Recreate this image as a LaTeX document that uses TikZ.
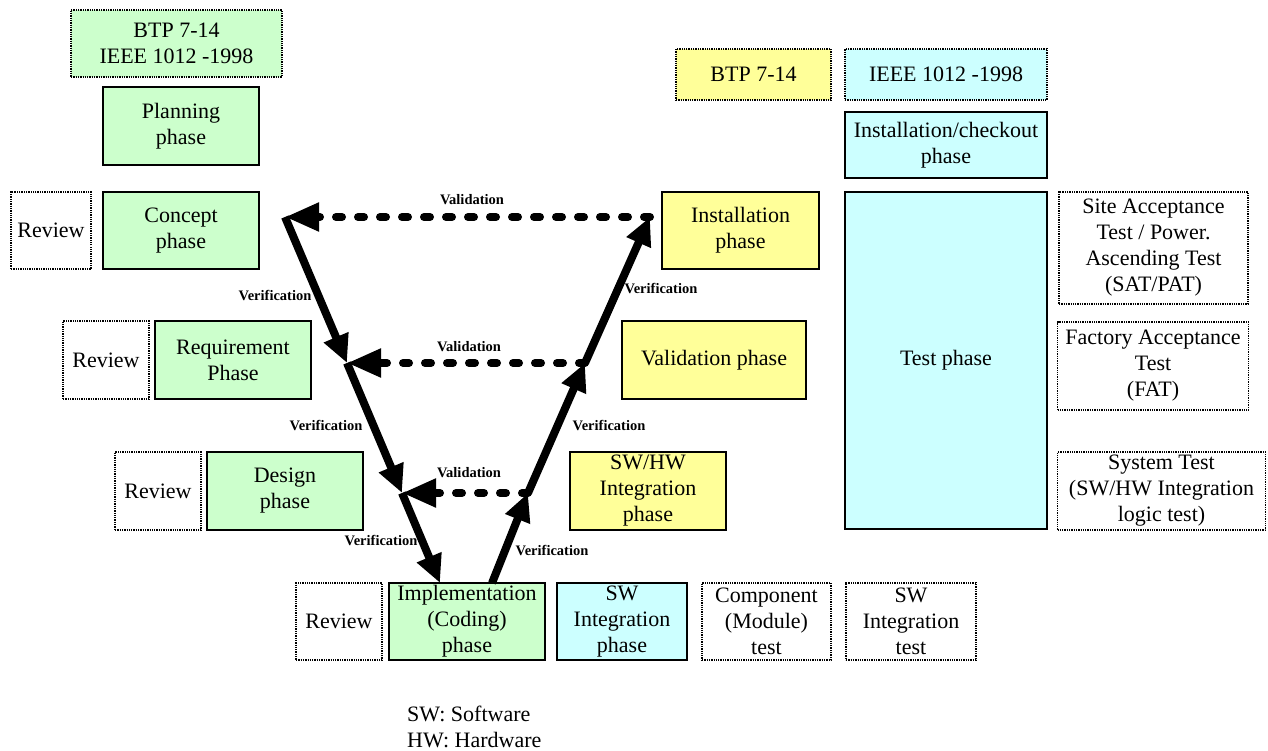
\documentclass[tikz,border=0pt]{standalone}
\usepackage{fontspec}
\setmainfont{Liberation Serif}
\usetikzlibrary{arrows.meta}
\definecolor{phgreen}{HTML}{CCFFCC}
\definecolor{phyellow}{HTML}{FFFF99}
\definecolor{phcyan}{HTML}{CCFFFF}
\tikzset{dims/.style 2 args={minimum width=#1pt, minimum height=#2pt},
  box/.style={align=center, inner sep=0pt, font=\fontsize{22}{26}\selectfont},
  phase/.style={box, draw=black, line width=2.2pt},
  gphase/.style={phase, fill=phgreen}, yphase/.style={phase, fill=phyellow}, cphase/.style={phase, fill=phcyan},
  note/.style={box, draw=black, densely dotted, line width=1.3pt},
  verif/.style={line width=8pt, -{Triangle[length=28pt, width=25pt]}},
  valid/.style={line width=8pt, line cap=round, dash pattern=on 6pt off 16pt, -{Triangle[length=34pt, width=27pt]}},
  lbl/.style={font=\fontsize{14.5}{16}\selectfont\bfseries, inner sep=0pt}}

\begin{document}
\begin{tikzpicture}[x=1pt, y=-1pt]
\useasboundingbox (0,0) rectangle (1268,751);
 \node[note, fill=phgreen, dims={211}{67}] (stdL) at (176.5,43.5) {BTP 7-14\\IEEE 1012 -1998};
 \node[note, fill=phyellow, dims={155}{51}] (stdbtp) at (753.5,74.5) {BTP 7-14};
 \node[note, fill=phcyan, dims={202}{51}] (stdieee) at (946,74.5) {IEEE 1012 -1998};
 \node[gphase, dims={156}{78}] (planning) at (181,126) {Planning\\phase};
 \node[gphase, dims={156}{77}] (concept) at (181,230.5) {Concept\\phase};
 \node[gphase, dims={156}{78}] (require) at (233,360) {Requirement\\Phase};
 \node[gphase, dims={156}{78}] (design) at (285,491) {Design\\phase};
 \node[gphase, dims={156}{77}] (impl) at (467,621.5) {Implementation\\(Coding)\\phase};
 \node[note, dims={80}{77}] (rev1) at (51,230.5) {Review};
 \node[note, dims={86}{78}] (rev2) at (106,360) {Review};
 \node[note, dims={86}{78}] (rev3) at (158,491) {Review};
 \node[note, dims={86}{77}] (rev4) at (339,621.5) {Review};
 \node[cphase, dims={130}{77}] (swint) at (622,621.5) {SW\\Integration\\phase};
 \node[note, dims={129}{77}] (comptest) at (766.5,621.5) {Component\\(Module)\\test};
 \node[note, dims={130}{77}] (swtest) at (911,621.5) {SW\\Integration\\test};
 \node[yphase, dims={156}{78}] (swhw) at (648,491) {SW/HW\\Integration\\phase};
 \node[yphase, dims={184}{78}] (validph) at (714,360) {Validation phase};
 \node[yphase, dims={157}{77}] (install) at (740.5,230.5) {Installation\\phase};
 \node[cphase, dims={202}{66}] (checkout) at (946,145) {Installation/checkout\\phase};
 \node[cphase, dims={202}{337}] (testph) at (946,360.5) {Test phase};
 \node[note, dims={189}{112}] (sat) at (1153.5,248) {Site Acceptance\\Test / Power.\\Ascending Test\\(SAT/PAT)};
 \node[note, dims={191}{88}] (fat) at (1153,366) {Factory Acceptance\\Test\\(FAT)};
 \node[note, dims={208}{78}] (systest) at (1161.5,491) {System Test\\(SW/HW Integration\\logic test)};
 \node[box, align=left, anchor=west] (legend) at (407,727) {SW: Software\\HW: Hardware};
 \coordinate (l1) at (285,217);
 \coordinate (l2) at (347,363);
 \coordinate (l3) at (402,493);
 \coordinate (l4) at (440,583);
 \coordinate (r0) at (492,583);
 \coordinate (r1) at (528,493);
 \coordinate (r2) at (585,363);
 \coordinate (r3) at (650,217);
 \draw[verif] (l1) -- (l2);
 \draw[verif] (l2) -- (l3);
 \draw[verif] (l3) -- (l4);
 \draw[verif] (r0) -- (r1);
 \draw[verif] (r1) -- (r2);
 \draw[verif] (r2) -- (r3);
 \draw[valid] (r3) -- (l1);
 \draw[valid] (r2) -- (l2);
 \draw[valid] (r1) -- (l3);
 \node[lbl] (val1) at (472,200) {Validation};
 \node[lbl] (val2) at (469,347) {Validation};
 \node[lbl] (val3) at (469,473) {Validation};
 \node[lbl] (ver1) at (275,296) {Verification};
 \node[lbl] (ver2) at (326,426) {Verification};
 \node[lbl] (ver3) at (381,541) {Verification};
 \node[lbl] (ver4) at (661,289) {Verification};
 \node[lbl] (ver5) at (609,426) {Verification};
 \node[lbl] (ver6) at (552,551) {Verification};
\end{tikzpicture}
\end{document}
